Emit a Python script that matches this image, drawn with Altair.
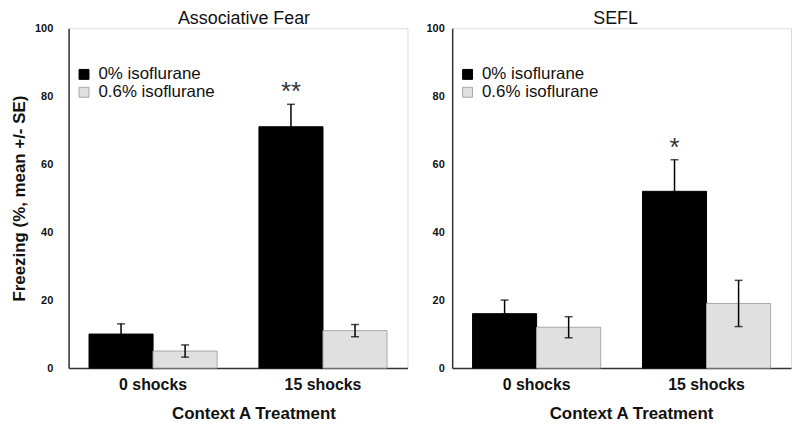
import altair as alt
import pandas as pd

groups = ["0 shocks", "15 shocks"]
treatments = ["0% isoflurane", "0.6% isoflurane"]
assoc_mean = [10, 5, 71, 11]
assoc_se = [3, 1.8, 6.6, 1.8]
assoc_sig = ["", "", "**", ""]
sefl_mean = [16, 12, 52, 19]
sefl_se = [4, 3.1, 9.3, 6.8]
sefl_sig = ["", "", "*", ""]
lower_bar_shown = [False, True]  # black bars show only the upper error bar
y_ticks = [0, 20, 40, 60, 80, 100]
fill_colors = ["#000000", "#e0e0e0"]
stroke_colors = ["#000000", "#a8a8a8"]

FONT = "Liberation Sans"


def make_df(means, ses, sigs):
    rows = []
    i = 0
    for g in groups:
        for j, t in enumerate(treatments):
            lo = means[i] - ses[i] if lower_bar_shown[j] else means[i]
            rows.append(dict(group=g, treatment=t, mean=means[i],
                             lo=lo, hi=means[i] + ses[i], sig=sigs[i],
                             showlo="yes" if lower_bar_shown[j] else "no"))
            i += 1
    return pd.DataFrame(rows)


def legend():
    return alt.Legend(title=None, orient="none", legendX=7, legendY=38,
                      symbolType="square", symbolSize=100, symbolStrokeWidth=1,
                      labelFontSize=17, labelFont=FONT, labelOffset=6,
                      labelColor="#111111", rowPadding=0, padding=0)


def panel(df, title, show_ytitle, label_pad, title_dx, xtitle_x):
    x = alt.X("group:N", sort=groups,
              scale=alt.Scale(paddingInner=0.246, paddingOuter=0.12),
              axis=alt.Axis(title="Context A Treatment", labelAngle=0, ticks=False,
                            labelFontSize=16, labelFontWeight="bold", labelPadding=9,
                            titleFontSize=17, titleFontWeight="bold", titlePadding=13,
                            titleX=xtitle_x,
                            domainColor="#333333", domainWidth=1.5))
    xo = alt.XOffset("treatment:N", sort=treatments,
                     scale=alt.Scale(paddingInner=0, paddingOuter=0))
    yaxis = alt.Axis(values=y_ticks, ticks=False, grid=False, labelFontSize=11,
                     labelFontWeight="bold", labelPadding=label_pad,
                     domainColor="#333333", domainWidth=1.5,
                     titleFontSize=17, titleFontWeight="bold", titlePadding=6)
    yscale = alt.Scale(domain=[0, 100], nice=False)
    if show_ytitle:
        y = alt.Y("mean:Q", scale=yscale, axis=yaxis, title="Freezing (%, mean +/- SE)")
    else:
        y = alt.Y("mean:Q", scale=yscale, axis=yaxis, title=None)
    base = alt.Chart(df)
    xs = dict(x=alt.X("group:N", sort=groups),
              xOffset=alt.XOffset("treatment:N", sort=treatments))
    bars = base.mark_bar(strokeWidth=1).encode(
        x=x, xOffset=xo, y=y,
        fill=alt.Fill("treatment:N", sort=treatments,
                      scale=alt.Scale(domain=treatments, range=fill_colors),
                      legend=legend()),
        stroke=alt.Stroke("treatment:N", sort=treatments,
                          scale=alt.Scale(domain=treatments, range=stroke_colors),
                          legend=legend()),
    )
    rules = base.mark_rule(color="#000000", strokeWidth=1.5).encode(
        y="lo:Q", y2="hi:Q", **xs)
    cap_hi = base.mark_tick(color="#000000", thickness=1.5, size=8).encode(
        y="hi:Q", **xs)
    cap_lo = base.transform_filter(alt.datum.showlo == "yes").mark_tick(
        color="#000000", thickness=1.5, size=8).encode(y="lo:Q", **xs)
    stars = base.mark_text(fontSize=26, color="#333333", dy=-4, baseline="alphabetic",
                           font=FONT).encode(y="hi:Q", text="sig:N", **xs)
    return alt.layer(bars, rules, cap_hi, cap_lo, stars).properties(
        width=341, height=342,
        title=alt.TitleParams(title, fontSize=18, fontWeight="normal", font=FONT,
                              offset=-6, dx=title_dx, color="#111111"),
    )


left = panel(make_df(assoc_mean, assoc_se, assoc_sig), "Associative Fear", True, 16, 6, 186)
right = panel(make_df(sefl_mean, sefl_se, sefl_sig), "SEFL", False, 8, -6, 180)

chart = alt.hconcat(left, right, spacing=45, bounds="flush").resolve_scale(
    fill="independent", stroke="independent"
).resolve_legend(fill="independent", stroke="independent").properties(
    padding={"left": 2, "top": 0, "right": 0, "bottom": 0}
).configure_view(stroke=None).configure(font=FONT).configure_axis(
    labelFont=FONT, titleFont=FONT, labelColor="#111111", titleColor="#111111"
)

chart.save("out.html", embed_options={"renderer": "svg", "actions": False})
